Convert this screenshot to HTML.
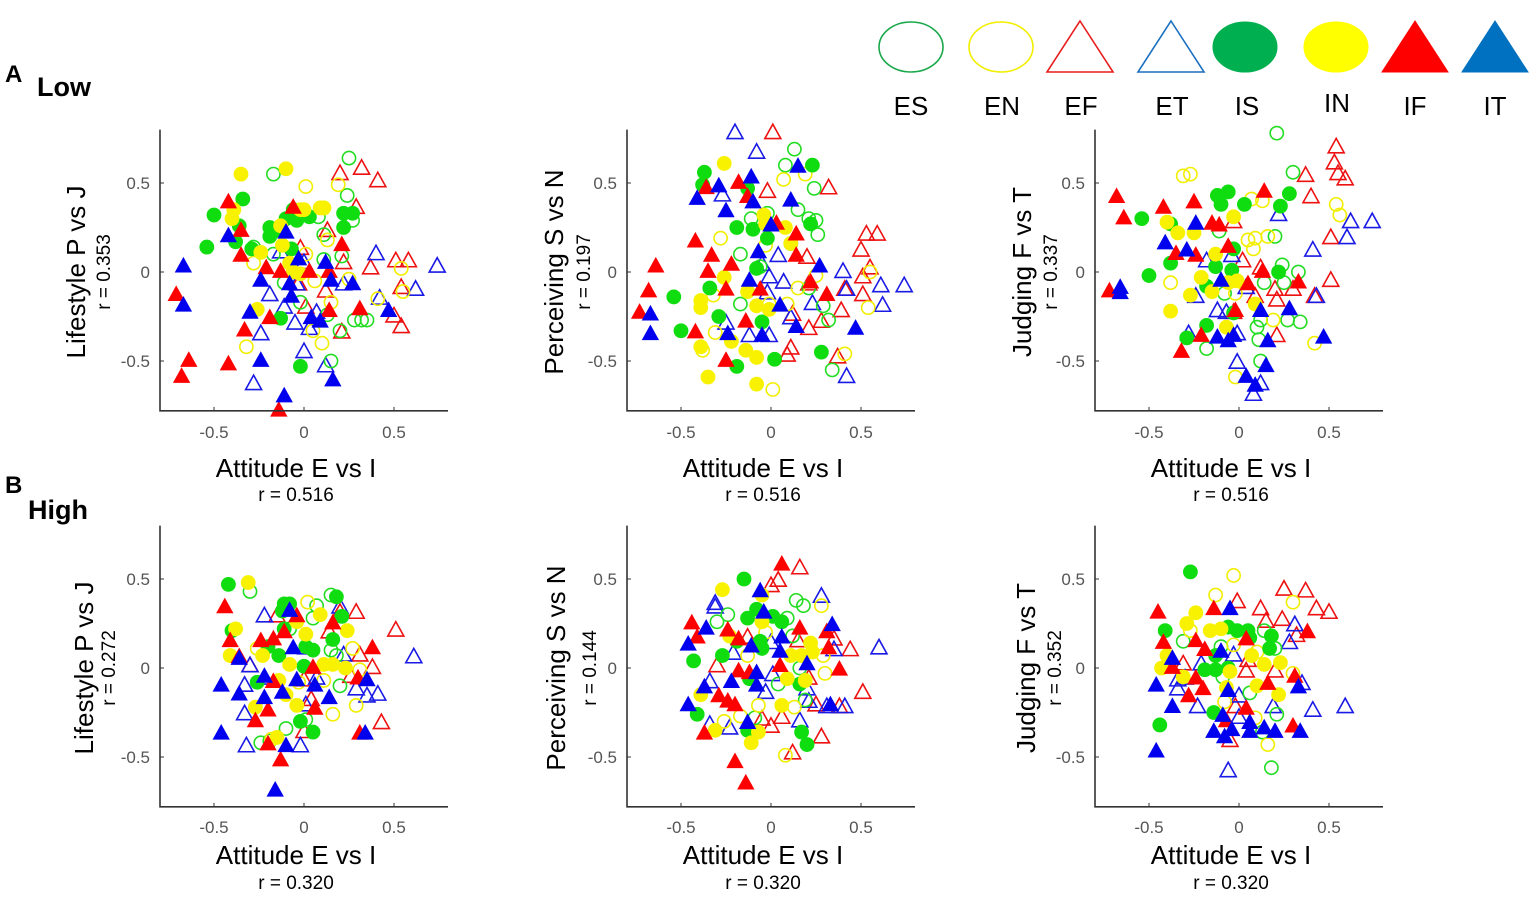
<!DOCTYPE html>
<html><head><meta charset="utf-8"><style>
html,body{margin:0;padding:0;background:#fff;}
body{width:1535px;height:895px;overflow:hidden;font-family:"Liberation Sans",Arial,sans-serif;}
svg text{font-family:"Liberation Sans",Arial,sans-serif;}
</style></head><body>
<svg id="fig" width="1535" height="895" viewBox="0 0 1535 895" xmlns="http://www.w3.org/2000/svg">
<text x="5" y="82" font-size="24" font-weight="bold">A</text>
<text x="37" y="96" font-size="27" font-weight="bold">Low</text>
<text x="5" y="493" font-size="24" font-weight="bold">B</text>
<text x="28" y="519" font-size="27" font-weight="bold">High</text>
<g id="legend"></g>
<g id="plots"></g>
</svg>
<script>
const categories = ["ES","EN","EF","ET","IS","IN","IF","IT"];
const xTicks = [-0.5, 0, 0.5];
const yTicks = [0.5, 0, -0.5];
const xTickLabels = ["-0.5","0","0.5"];
const yTickLabels = ["0.5","0","-0.5"];
const yTitles = ["Lifestyle P vs J","Perceiving S vs N","Judging F vs T"];
const lowYR = ["r = 0.353","r = 0.197","r = 0.337"];
const highYR = ["r = 0.272","r = 0.144","r = 0.352"];
const lowXR = "r = 0.516";
const highXR = "r = 0.320";

// Low - Lifestyle
const lowPJ_IF=[[-0.42,0.40],[-0.71,-0.12],[-0.64,-0.49],[-0.68,-0.58],[-0.42,-0.51],[-0.35,0.24],[-0.35,0.10],[-0.33,-0.32],[-0.21,0.03],[-0.19,-0.25],[-0.14,-0.77],[-0.13,0.01],[-0.06,0.37],[0.03,0.01],[0.14,-0.21],[0.21,0.16],[0.31,-0.20],[0.14,0.01]];
const lowPJ_IT=[[-0.67,0.04],[-0.67,-0.18],[-0.42,0.21],[-0.24,-0.04],[-0.30,-0.22],[-0.24,-0.49],[-0.11,-0.69],[-0.10,0.23],[-0.08,-0.06],[-0.07,-0.13],[0.04,-0.25],[0.09,-0.27],[0.12,0.06],[0.15,-0.04],[0.16,-0.60],[0.27,-0.06],[0.47,-0.21],[-0.03,0.08]];
const lowPJ_EF=[[0.20,0.56],[0.32,0.59],[0.41,0.52],[0.29,0.37],[0.13,0.24],[-0.02,0.14],[0.22,0.06],[0.37,0.03],[0.51,0.07],[0.58,0.07],[0.54,-0.08],[0.50,-0.24],[0.54,-0.30],[0.01,-0.19],[0.21,-0.33],[0.12,-0.10],[-0.03,-0.06]];
const lowPJ_ET=[[-0.19,-0.12],[-0.11,-0.19],[-0.24,-0.34],[-0.28,-0.62],[-0.05,-0.28],[0.0,-0.44],[0.03,-0.31],[0.12,-0.52],[0.07,-0.22],[0.22,-0.06],[0.40,0.11],[0.42,-0.14],[0.62,-0.09],[0.74,0.04],[0.0,0.06],[-0.04,-0.06],[-0.13,0.12]];
const lowPJ_IS=[[-0.54,0.14],[-0.50,0.32],[-0.34,0.41],[-0.36,0.26],[-0.38,0.17],[-0.29,0.13],[-0.19,0.25],[-0.19,0.20],[-0.10,0.30],[-0.04,0.29],[-0.06,0.35],[0.03,0.31],[-0.07,0.13],[-0.13,-0.26],[-0.02,-0.53],[0.22,0.33],[0.27,0.33],[0.22,0.25],[-0.13,0.23]];
const lowPJ_IN=[[-0.35,0.55],[-0.10,0.58],[-0.39,0.35],[-0.40,0.30],[-0.24,0.11],[-0.12,0.15],[-0.13,0.26],[-0.02,0.35],[0.0,0.35],[-0.08,0.05],[-0.06,0.0],[-0.02,-0.01],[0.09,0.36],[0.11,0.36],[-0.26,-0.21]];
const lowPJ_ES=[[-0.17,0.55],[0.25,0.64],[0.24,0.43],[0.27,0.29],[0.08,0.31],[0.11,0.21],[0.21,0.09],[-0.17,0.10],[-0.28,0.14],[-0.11,-0.06],[-0.02,-0.17],[0.11,0.07],[0.13,-0.24],[0.20,-0.33],[0.28,-0.27],[0.32,-0.27],[0.35,-0.27],[0.15,-0.50]];
const lowPJ_EN=[[0.01,0.48],[0.19,0.49],[0.13,0.18],[0.11,0.36],[-0.28,0.05],[0.06,-0.05],[0.15,-0.17],[0.05,-0.33],[0.10,-0.40],[-0.32,-0.42],[0.25,-0.04],[0.41,-0.15],[0.54,0.02],[0.55,-0.11],[0.01,0.10]];
// Low - Perceiving
const lowSN_IF=[[-0.64,0.04],[-0.68,-0.10],[-0.73,-0.22],[-0.42,0.18],[-0.36,0.48],[-0.18,0.51],[-0.13,0.43],[-0.33,0.10],[-0.35,0.01],[-0.22,0.05],[-0.25,-0.09],[-0.42,-0.33],[-0.14,-0.27],[-0.06,-0.09],[-0.25,-0.49],[0.03,0.28],[0.14,0.22],[0.14,0.10],[0.22,-0.05],[0.31,-0.12]];
const lowSN_IT=[[-0.41,0.42],[-0.29,0.49],[-0.11,0.54],[-0.10,0.40],[-0.25,0.35],[0.11,0.41],[0.15,0.60],[-0.07,0.12],[-0.12,-0.04],[-0.67,-0.23],[-0.67,-0.34],[-0.24,-0.34],[-0.05,-0.35],[0.05,-0.18],[0.14,-0.30],[0.27,0.04],[0.47,-0.31],[0.0,0.27]];
const lowSN_EF=[[0.01,0.79],[-0.02,0.46],[0.32,0.48],[0.53,0.22],[0.59,0.22],[0.50,0.13],[0.55,0.03],[0.51,-0.02],[0.41,-0.09],[0.51,-0.12],[0.39,-0.21],[0.28,-0.27],[0.21,-0.31],[0.20,0.09],[0.21,-0.06],[0.12,-0.23],[0.11,-0.42],[0.09,-0.46],[0.37,-0.47]];
const lowSN_ET=[[-0.20,0.79],[-0.08,0.68],[-0.27,0.44],[0.04,0.10],[-0.05,0.05],[-0.01,-0.02],[0.07,-0.05],[-0.02,-0.11],[0.23,-0.17],[0.11,-0.25],[-0.25,-0.28],[-0.12,-0.35],[-0.01,-0.35],[0.40,0.01],[0.42,-0.09],[0.61,-0.07],[0.62,-0.18],[0.74,-0.07],[0.42,-0.58]];
const lowSN_IS=[[-0.37,0.56],[-0.38,0.49],[0.23,0.60],[-0.13,0.47],[-0.19,0.25],[-0.10,0.24],[0.22,0.27],[-0.02,0.19],[-0.34,-0.09],[-0.54,-0.14],[-0.29,-0.25],[-0.50,-0.33],[-0.05,-0.28],[-0.19,-0.53],[0.02,-0.49],[0.28,-0.45],[-0.08,0.02]];
const lowSN_IN=[[-0.26,0.61],[-0.04,0.32],[-0.03,0.27],[0.08,0.25],[0.11,0.16],[-0.26,-0.03],[-0.13,-0.11],[-0.39,-0.16],[-0.39,-0.20],[-0.08,-0.19],[-0.01,-0.21],[-0.22,-0.39],[-0.14,-0.44],[-0.08,-0.48],[-0.39,-0.42],[-0.35,-0.59],[-0.08,-0.63]];
const lowSN_ES=[[0.13,0.69],[0.08,0.60],[0.24,0.47],[0.15,0.35],[0.21,0.30],[0.25,0.29],[0.26,0.21],[-0.11,0.30],[-0.02,0.33],[-0.17,0.10],[0.11,0.16],[-0.06,0.03],[-0.17,-0.18],[0.29,-0.19],[0.32,-0.27],[0.21,-0.09],[0.34,-0.55]];
const lowSN_EN=[[0.07,0.52],[0.19,0.55],[-0.28,0.19],[-0.03,0.15],[-0.32,-0.13],[0.15,-0.09],[0.25,-0.02],[-0.01,-0.18],[0.09,-0.18],[-0.31,-0.34],[-0.38,-0.44],[0.55,0.0],[0.54,-0.20],[0.41,-0.46],[0.01,-0.66]];
// Low - Judging
const lowFT_IF=[[-0.68,0.43],[-0.64,0.31],[-0.72,-0.10],[-0.42,0.37],[-0.25,0.40],[-0.15,0.28],[-0.11,0.27],[-0.35,0.11],[-0.24,0.10],[-0.06,0.15],[0.14,0.46],[0.05,-0.06],[0.13,0.01],[0.33,-0.05],[-0.21,-0.35],[-0.32,-0.44],[-0.02,-0.21]];
const lowFT_IT=[[-0.66,-0.08],[-0.66,-0.11],[-0.41,0.17],[-0.29,0.13],[-0.24,0.28],[-0.10,-0.04],[0.12,-0.21],[0.28,-0.20],[-0.12,-0.36],[-0.06,-0.38],[-0.03,-0.35],[0.16,-0.38],[0.47,-0.36],[0.15,-0.52],[0.04,-0.58],[0.09,-0.63]];
const lowFT_EF=[[0.54,0.71],[0.53,0.62],[0.55,0.56],[0.59,0.53],[0.37,0.55],[0.40,0.43],[-0.03,0.29],[0.51,0.20],[0.02,0.07],[0.12,0.03],[0.20,-0.09],[0.21,-0.15],[0.30,-0.09],[0.42,-0.13],[0.51,-0.04],[0.09,-0.13],[-0.03,-0.22],[0.21,-0.35]];
const lowFT_ET=[[0.22,0.33],[0.62,0.29],[0.74,0.29],[0.60,0.20],[0.41,0.13],[-0.04,0.10],[-0.18,0.07],[0.04,-0.08],[-0.24,-0.13],[-0.12,-0.21],[-0.07,-0.22],[0.43,-0.13],[-0.28,-0.34],[-0.01,-0.34],[-0.01,-0.50],[0.12,-0.62],[0.08,-0.68]];
const lowFT_IS=[[-0.54,0.30],[-0.50,-0.02],[-0.38,0.27],[-0.38,0.05],[-0.12,0.43],[-0.06,0.45],[-0.10,0.38],[0.03,0.38],[0.23,0.37],[0.28,0.44],[-0.03,0.13],[-0.04,0.01],[-0.13,0.03],[-0.18,-0.08],[0.22,0.0],[-0.18,-0.30],[-0.29,-0.37],[-0.03,-0.23]];
const lowFT_IN=[[-0.40,0.28],[-0.34,0.22],[-0.25,0.22],[-0.03,0.31],[-0.13,0.10],[-0.21,-0.03],[-0.15,-0.11],[-0.06,-0.06],[-0.01,-0.05],[-0.27,-0.13],[-0.38,-0.22],[0.09,-0.18],[-0.07,-0.31]];
const lowFT_ES=[[0.21,0.78],[0.30,0.56],[-0.11,0.23],[0.20,0.20],[0.24,0.04],[0.33,0.0],[0.14,-0.06],[0.25,-0.06],[-0.08,-0.12],[0.12,-0.27],[0.27,-0.27],[0.34,-0.28],[0.10,-0.31],[0.11,-0.38],[-0.18,-0.43],[0.12,-0.50]];
const lowFT_EN=[[-0.31,0.54],[-0.27,0.55],[0.07,0.41],[0.13,0.40],[0.05,0.18],[0.09,0.19],[0.16,0.20],[0.08,0.13],[0.54,0.38],[0.56,0.32],[-0.38,-0.06],[-0.02,-0.12],[0.19,-0.27],[0.42,-0.40],[-0.02,-0.59]];
// High - Lifestyle
const highPJ_IF=[[-0.44,0.35],[-0.41,0.16],[-0.36,0.07],[-0.24,0.16],[-0.17,0.17],[-0.11,0.21],[-0.17,-0.07],[-0.20,-0.23],[-0.27,-0.29],[-0.20,-0.42],[-0.13,-0.51],[0.05,0.01],[0.06,-0.22],[0.16,0.26],[0.30,-0.05],[0.38,0.12],[0.31,-0.36],[-0.04,0.30]];
const highPJ_IT=[[-0.46,-0.09],[-0.46,-0.36],[-0.36,0.06],[-0.36,-0.14],[-0.22,-0.16],[-0.16,-0.68],[-0.10,-0.43],[-0.08,0.33],[-0.06,0.12],[-0.04,-0.06],[0.06,-0.09],[0.14,-0.16],[0.35,-0.06],[0.34,-0.36],[-0.22,-0.04],[-0.12,-0.13]];
const highPJ_EF=[[0.29,0.32],[0.51,0.22],[0.43,-0.30],[0.38,0.01],[0.31,0.08],[0.14,0.21],[0.0,-0.06],[0.04,-0.17],[0.0,-0.35],[-0.15,0.30],[-0.30,0.02],[0.26,-0.04],[0.20,0.32]];
const highPJ_ET=[[-0.22,0.30],[0.20,0.35],[0.01,0.12],[0.22,0.08],[-0.30,0.02],[-0.33,-0.09],[-0.33,-0.25],[-0.32,-0.43],[-0.22,-0.05],[-0.02,-0.43],[0.01,-0.20],[0.29,-0.11],[0.35,-0.15],[0.41,-0.14],[0.61,0.07],[0.07,-0.05]];
const highPJ_IS=[[-0.42,0.47],[0.18,0.40],[-0.11,0.36],[-0.08,0.36],[-0.12,0.32],[0.21,0.29],[-0.40,0.21],[-0.11,0.22],[-0.20,0.12],[-0.14,0.07],[0.05,0.10],[0.0,0.01],[0.16,0.16],[-0.26,-0.08],[-0.02,-0.30],[0.05,-0.36],[0.01,0.12]];
const highPJ_IN=[[-0.31,0.48],[-0.38,0.22],[-0.41,0.07],[-0.23,0.07],[-0.08,0.02],[-0.04,0.26],[0.01,0.19],[0.09,0.30],[0.11,0.02],[0.16,0.02],[0.23,0.0],[0.24,0.21],[-0.27,-0.22],[-0.14,-0.07],[-0.10,-0.15],[-0.04,-0.21],[-0.15,-0.39]];
const highPJ_ES=[[-0.30,0.43],[0.15,0.41],[0.07,0.35],[0.05,0.28],[-0.08,0.22],[0.15,0.10],[0.18,0.07],[0.20,-0.10],[-0.10,-0.34],[-0.24,-0.42],[-0.19,-0.41],[0.01,-0.29]];
const highPJ_EN=[[0.02,0.37],[-0.26,0.11],[-0.03,-0.08],[0.11,-0.07],[0.27,0.11],[0.29,-0.21],[0.16,-0.26],[0.31,-0.01],[-0.18,-0.40]];
// High - Perceiving
const highSN_IF=[[0.06,0.59],[-0.44,0.26],[-0.41,0.18],[-0.24,0.22],[-0.18,0.17],[-0.18,-0.01],[-0.12,-0.02],[-0.29,-0.15],[-0.24,-0.18],[-0.20,-0.20],[-0.37,-0.36],[-0.20,-0.52],[-0.14,-0.64],[0.05,0.02],[0.16,0.23],[0.31,0.21],[0.32,0.12],[0.38,0.0]];
const highSN_IT=[[-0.46,0.14],[-0.36,0.23],[-0.37,-0.10],[-0.46,-0.20],[-0.22,-0.07],[-0.06,0.44],[-0.04,0.32],[-0.08,-0.02],[-0.08,-0.09],[-0.11,0.13],[0.06,0.18],[0.20,0.03],[0.34,0.25],[0.33,-0.20],[-0.13,-0.30],[0.05,0.10]];
const highSN_EF=[[0.16,0.57],[0.04,0.50],[0.0,0.47],[-0.30,0.02],[-0.13,0.18],[0.15,0.16],[0.35,0.17],[0.44,0.11],[0.51,-0.13],[0.21,-0.05],[0.25,-0.20],[0.38,-0.21],[0.28,-0.38],[0.12,-0.47],[0.06,-0.27],[0.0,-0.32],[-0.05,-0.28]];
const highSN_ET=[[-0.31,0.37],[-0.31,0.35],[0.28,0.41],[-0.21,0.09],[0.0,0.15],[0.01,-0.03],[-0.03,-0.13],[-0.34,-0.07],[-0.34,-0.31],[-0.23,-0.33],[0.16,-0.29],[0.20,-0.11],[0.21,-0.18],[0.31,-0.21],[0.41,-0.21],[0.35,0.11],[0.60,0.12]];
const highSN_IS=[[-0.15,0.50],[-0.43,0.04],[-0.27,0.07],[-0.13,0.28],[-0.08,0.33],[0.01,0.29],[0.06,0.26],[-0.06,0.15],[-0.12,-0.06],[-0.05,0.11],[0.16,-0.09],[-0.41,-0.26],[-0.13,-0.35],[0.17,-0.36],[0.20,-0.43],[-0.19,0.15]];
const highSN_IN=[[-0.27,0.44],[-0.05,0.41],[-0.23,0.18],[-0.05,0.26],[0.11,0.07],[0.17,0.07],[0.23,0.09],[0.22,0.14],[0.09,-0.06],[-0.39,-0.15],[0.06,-0.21],[-0.31,-0.35],[-0.11,-0.42],[-0.07,-0.36],[0.19,-0.07]];
const highSN_ES=[[0.14,0.38],[0.18,0.35],[-0.24,0.30],[-0.30,0.26],[0.09,0.28],[0.12,0.18],[0.04,-0.09],[0.19,-0.18],[0.16,0.0],[-0.09,-0.28]];
const highSN_EN=[[0.28,0.35],[-0.13,0.07],[-0.03,0.20],[0.30,-0.03],[0.29,0.07],[-0.07,-0.21],[0.13,-0.22],[-0.26,-0.30],[-0.17,-0.27],[0.08,-0.49]];
// High - Judging
const highFT_IF=[[-0.45,0.32],[-0.14,0.34],[-0.42,0.15],[-0.24,0.16],[-0.19,0.11],[-0.37,0.01],[-0.24,-0.05],[-0.20,-0.11],[-0.28,-0.15],[0.04,0.17],[0.04,-0.22],[-0.07,-0.29],[0.16,-0.08],[0.30,-0.32],[0.38,0.21],[0.31,-0.04]];
const highFT_IT=[[-0.05,0.34],[-0.37,0.06],[-0.46,-0.09],[-0.37,-0.21],[-0.46,-0.46],[-0.10,0.10],[-0.06,-0.12],[-0.09,-0.26],[-0.14,-0.35],[-0.08,-0.38],[-0.04,-0.34],[0.06,-0.30],[0.06,-0.35],[0.14,-0.33],[0.20,-0.35],[0.34,-0.35],[0.33,-0.10]];
const highFT_EF=[[0.25,0.45],[0.37,0.44],[-0.01,0.38],[0.12,0.34],[0.15,0.27],[0.24,0.28],[0.43,0.34],[0.50,0.32],[0.32,0.19],[-0.31,0.03],[0.04,-0.01],[0.20,-0.01],[0.05,0.05],[-0.02,-0.21],[-0.05,-0.40]];
const highFT_ET=[[0.31,0.25],[0.28,0.15],[-0.03,0.08],[-0.21,0.03],[-0.34,-0.06],[-0.30,-0.05],[-0.34,-0.11],[-0.23,-0.21],[0.0,-0.15],[0.0,-0.27],[0.19,-0.21],[0.41,-0.23],[0.59,-0.21],[0.35,-0.08],[-0.06,-0.57]];
const highFT_IS=[[-0.27,0.54],[-0.41,0.21],[-0.44,-0.32],[-0.06,0.23],[-0.01,0.21],[0.05,0.21],[0.06,0.17],[0.18,0.18],[0.17,0.11],[-0.13,-0.01],[-0.19,-0.01],[-0.06,0.0],[-0.14,-0.25],[-0.13,0.07]];
const highFT_IN=[[-0.24,0.31],[-0.29,0.25],[-0.16,0.21],[-0.10,0.22],[-0.40,0.07],[-0.43,0.0],[-0.31,-0.05],[-0.05,-0.02],[-0.07,-0.11],[0.07,0.07],[0.10,-0.10],[0.23,0.03],[0.22,-0.15],[0.14,0.02]];
const highFT_ES=[[-0.31,0.15],[0.14,0.21],[0.20,0.11],[-0.10,0.12],[0.06,-0.14],[0.21,-0.26],[0.13,-0.36],[0.18,-0.56],[-0.09,-0.05]];
const highFT_EN=[[-0.03,0.52],[-0.13,0.41],[0.30,0.37],[-0.27,0.21],[-0.03,0.13],[0.10,0.09],[0.30,-0.03],[-0.08,-0.19],[0.09,-0.28],[0.16,-0.43]];

const NS="http://www.w3.org/2000/svg";
const styleOf={ES:{c:"#22dd22",f:false,s:"circle"},EN:{c:"#f2ee00",f:false,s:"circle"},EF:{c:"#ee1111",f:false,s:"tri"},ET:{c:"#1a1ae6",f:false,s:"tri"},
 IS:{c:"#10dd10",f:true,s:"circle"},IN:{c:"#f8f200",f:true,s:"circle"},IF:{c:"#ff0000",f:true,s:"tri"},IT:{c:"#0000ee",f:true,s:"tri"}};

function mk(tag,attrs,parent){const e=document.createElementNS(NS,tag);for(const k in attrs)e.setAttribute(k,attrs[k]);parent.appendChild(e);return e;}

function marker(parent,cat,cx,cy){
 const st=styleOf[cat];let e;
 if(st.s==="circle"){e=mk("circle",{cx:cx,cy:cy,r:st.f?7:6.6},parent);}
 else{const w=8,h=7.2;e=mk("polygon",{points:`${cx},${cy-h} ${cx+w},${cy+h} ${cx-w},${cy+h}`},parent);}
 e.setAttribute("fill",st.f?st.c:"none");
 e.setAttribute("stroke",st.c);
 e.setAttribute("stroke-width",st.f?0.8:1.6);
 return e;
}

const plotsG=document.getElementById("plots");
const panelX0=[304,771,1239];
const rows=[
 {key:"low",y0:272,yTitle:[76,554,1022],rLab:[103,583,1050],xt:468,xr:494,tick:438,yR:lowYR,xR:lowXR,
  data:[{ES:lowPJ_ES,EN:lowPJ_EN,EF:lowPJ_EF,ET:lowPJ_ET,IS:lowPJ_IS,IN:lowPJ_IN,IF:lowPJ_IF,IT:lowPJ_IT},
        {ES:lowSN_ES,EN:lowSN_EN,EF:lowSN_EF,ET:lowSN_ET,IS:lowSN_IS,IN:lowSN_IN,IF:lowSN_IF,IT:lowSN_IT},
        {ES:lowFT_ES,EN:lowFT_EN,EF:lowFT_EF,ET:lowFT_ET,IS:lowFT_IS,IN:lowFT_IN,IF:lowFT_IF,IT:lowFT_IT}]},
 {key:"high",y0:668,yTitle:[84,556,1026],rLab:[108,589,1054],xt:855,xr:882,tick:833,yR:highYR,xR:highXR,
  data:[{ES:highPJ_ES,EN:highPJ_EN,EF:highPJ_EF,ET:highPJ_ET,IS:highPJ_IS,IN:highPJ_IN,IF:highPJ_IF,IT:highPJ_IT},
        {ES:highSN_ES,EN:highSN_EN,EF:highSN_EF,ET:highSN_ET,IS:highSN_IS,IN:highSN_IN,IF:highSN_IF,IT:highSN_IT},
        {ES:highFT_ES,EN:highFT_EN,EF:highFT_EF,ET:highFT_ET,IS:highFT_IS,IN:highFT_IN,IF:highFT_IF,IT:highFT_IT}]}
];
const PX=180, PY=178, XMIN=-0.8, XMAX=0.8, YMIN=-0.78, YMAX=0.8;
const drawOrder=["EF","ET","ES","EN","IS","IN","IF","IT"];

rows.forEach(row=>{
 for(let p=0;p<3;p++){
  const x0=panelX0[p], y0=row.y0;
  const sx=v=>x0+v*PX, sy=v=>y0-v*PY;
  const g=mk("g",{},plotsG);
  
  
  const mg=mk("g",{},g);
  
  
  drawOrder.forEach(cat=>{
   row.data[p][cat].forEach(pt=>{
    const m=marker(mg,cat,sx(pt[0]),sy(pt[1]));
    
    
   });
  });
  const ax=mk("path",{d:`M${sx(XMIN)},${sy(YMAX)} L${sx(XMIN)},${sy(YMIN)} L${sx(XMAX)},${sy(YMIN)}`,fill:"none",stroke:"#333",'stroke-width':1.6},g);
  
  
  xTicks.forEach((t,i)=>{
   mk("line",{x1:sx(t),x2:sx(t),y1:sy(YMIN),y2:sy(YMIN)-4,stroke:"#333",'stroke-width':1},g);
   const tx=mk("text",{x:sx(t),y:row.tick,'font-size':17,fill:"#555",'text-anchor':"middle"},g);
   tx.textContent=xTickLabels[i];
   
   
  });
  yTicks.forEach((t,i)=>{
   mk("line",{x1:sx(XMIN),x2:sx(XMIN)+4,y1:sy(t),y2:sy(t),stroke:"#333",'stroke-width':1},g);
   const ty=mk("text",{x:sx(XMIN)-10,y:sy(t)+6,'font-size':17,fill:"#555",'text-anchor':"end"},g);
   ty.textContent=yTickLabels[i];
   
   
  });
  const xt=mk("text",{x:x0-8,y:row.xt+9,'font-size':26,'text-anchor':"middle"},g);
  xt.textContent="Attitude E vs I";
  
  
  const xr=mk("text",{x:x0-8,y:row.xr+7,'font-size':19,'text-anchor':"middle"},g);
  xr.textContent=row.xR;
  
  
  const ytx=row.yTitle[p]+9, yty=y0;
  const yt=mk("text",{x:ytx,y:yty,'font-size':26,'text-anchor':"middle",transform:`rotate(-90 ${ytx} ${yty})`},g);
  yt.textContent=yTitles[p];
  
  
  const rx=row.rLab[p]+7;
  const yr=mk("text",{x:rx,y:yty,'font-size':19,'text-anchor':"middle",transform:`rotate(-90 ${rx} ${yty})`},g);
  yr.textContent=row.yR[p];
  
  
 }
});

const legG=document.getElementById("legend");
const legCx=[911,1001,1080,1171,1245,1336,1415,1495];
const legLabelX=[911,1002,1081,1172,1247,1337,1415,1495];
const legColors={ES:"#1aa84a",EN:"#f2ee00",EF:"#e81c1c",ET:"#1a6fbf",IS:"#00b050",IN:"#ffff00",IF:"#ff0000",IT:"#0070c0"};
categories.forEach((cat,i)=>{
 const st=styleOf[cat];const cx=legCx[i];let e;
 if(st.s==="circle"){e=mk("ellipse",{cx:cx,cy:47,rx:32,ry:25},legG);}
 else{e=mk("polygon",{points:`${cx},${21} ${cx+33},${72} ${cx-33},${72}`},legG);}
 e.setAttribute("fill",st.f?legColors[cat]:"none");
 e.setAttribute("stroke",legColors[cat]);
 e.setAttribute("stroke-width",st.f?1:1.6);
 
 
 const t=mk("text",{x:legLabelX[i],y:cat==="IN"?112:115,'font-size':26,'text-anchor':"middle"},legG);
 t.textContent=cat;
 
 
});
</script>
</body></html>
